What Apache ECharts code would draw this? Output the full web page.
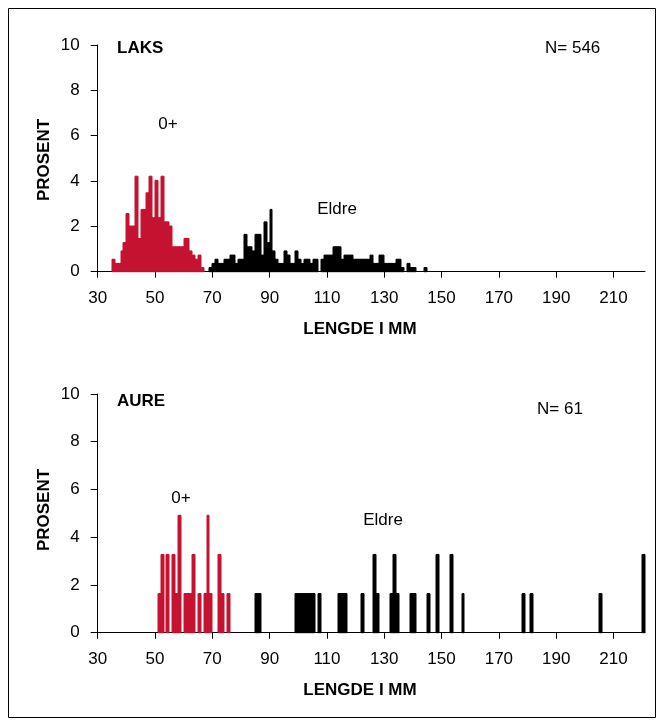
<!DOCTYPE html>
<html>
<head>
<meta charset="utf-8">
<script src="https://cdn.jsdelivr.net/npm/echarts@6/dist/echarts.min.js"></script>
<style>
html,body{margin:0;padding:0;background:#fff;}
#chart{width:657px;height:726px;}
</style>
</head>
<body>
<div id="chart"></div>
<script>
// ---- Data (length in mm, number of fish per 1 mm class) ----
const xTickLabels = [30, 50, 70, 90, 110, 130, 150, 170, 190, 210];
const yTickLabels = [0, 2, 4, 6, 8, 10];

const laksN = 546;
const laks0Lengths = [35,36,37,38,39,40,41,42,43,44,45,46,47,48,49,50,51,52,53,54,55,56,57,58,59,60,61,62,63,64,65,66];
const laks0Counts  = [3,2,2,5,7,14,11,11,23,8,15,15,19,23,13,22,13,23,12,12,11,6,6,6,6,8,8,5,4,3,4,1];
const laksEldreLengths = [69,70,71,72,73,74,75,76,77,78,79,80,81,82,83,84,85,86,87,88,89,90,91,92,93,94,95,96,97,98,99,100,101,102,103,104,105,106,108,109,110,111,112,113,114,115,116,117,118,119,120,121,122,123,124,125,126,127,128,129,130,131,132,133,134,135,136,138,139,140,144];
const laksEldreCounts  = [1,2,3,2,2,3,3,4,4,2,3,3,9,6,6,5,9,9,4,12,7,15,5,3,2,2,5,4,2,2,5,3,2,3,3,2,3,3,3,4,4,4,6,6,6,3,4,4,4,3,3,3,3,3,3,4,2,2,4,4,2,2,2,2,3,3,1,2,1,1,1];

const aureN = 61;
const aure0Lengths = [51,52,54,56,57,58,60,61,62,63,65,67,68,69,72,73,75];
const aure0Counts  = [1,2,2,2,1,3,1,1,1,2,1,1,3,1,2,1,1];
const aureEldreLengths = [85,86,99,100,101,102,103,104,105,107,114,115,116,122,126,127,132,133,134,139,140,145,148,153,157,178,181,205,220];
const aureEldreCounts  = [1,1,1,1,1,1,1,1,1,1,1,1,1,1,2,1,1,2,1,1,1,1,2,2,1,1,1,1,2];

const RED = '#C41230';
const FONT = 'Liberation Sans, Arial, sans-serif';

function toPct(lengths, counts, n) {
  return lengths.map((l, i) => [l, counts[i] / n * 100]);
}

function renderBars(params, api) {
  const x = api.value(0), y = api.value(1);
  const p0 = api.coord([x, 0]);
  const p1 = api.coord([x + 1, y]);
  const x0 = Math.round(p0[0]), x1 = Math.round(p1[0]);
  const style = api.style();
  return {
    type: 'rect',
    shape: { x: x0, y: p1[1], width: x1 - x0, height: p0[1] - p1[1] },
    style: { fill: style.fill, stroke: style.fill, lineWidth: 1 }
  };
}

function xAxis(gridIndex) {
  return {
    type: 'value', gridIndex, min: 30, max: 221,
    axisLine: { show: true, lineStyle: { color: '#000', width: 1 } },
    axisTick: { show: true, length: 6, inside: false, customValues: xTickLabels, lineStyle: { color: '#000' } },
    axisLabel: { customValues: xTickLabels, color: '#000', fontSize: 17, fontFamily: FONT, margin: 18 },
    splitLine: { show: false }
  };
}
function yAxis(gridIndex) {
  return {
    type: 'value', gridIndex, min: 0, max: 10,
    axisLine: { show: true, onZero: false, lineStyle: { color: '#000', width: 1 } },
    axisTick: { show: true, length: 7, customValues: yTickLabels, lineStyle: { color: '#000' } },
    axisLabel: { customValues: yTickLabels, color: '#000', fontSize: 17, fontFamily: FONT, margin: 18 },
    splitLine: { show: false }
  };
}

function txt(x, y, text, opts) {
  return {
    type: 'text', x, y, z: 10,
    style: Object.assign({ text, fill: '#000', font: '17px ' + FONT, textAlign: 'left', textVerticalAlign: 'middle' }, opts || {})
  };
}

const chart = echarts.init(document.getElementById('chart'), null, { renderer: 'canvas' });
chart.setOption({
  animation: false,
  backgroundColor: '#fff',
  grid: [
    { left: 97.7, top: 45, width: 547.3, height: 226.7 },
    { left: 97.7, top: 394, width: 547.3, height: 238.7 }
  ],
  xAxis: [xAxis(0), xAxis(1)],
  yAxis: [yAxis(0), yAxis(1)],
  series: [
    { type: 'custom', xAxisIndex: 0, yAxisIndex: 0, renderItem: renderBars, itemStyle: { color: RED },
      encode: { x: 0, y: 1 }, data: toPct(laks0Lengths, laks0Counts, laksN) },
    { type: 'custom', xAxisIndex: 0, yAxisIndex: 0, renderItem: renderBars, itemStyle: { color: '#000' },
      encode: { x: 0, y: 1 }, data: toPct(laksEldreLengths, laksEldreCounts, laksN) },
    { type: 'custom', xAxisIndex: 1, yAxisIndex: 1, renderItem: renderBars, itemStyle: { color: RED },
      encode: { x: 0, y: 1 }, data: toPct(aure0Lengths, aure0Counts, aureN) },
    { type: 'custom', xAxisIndex: 1, yAxisIndex: 1, renderItem: renderBars, itemStyle: { color: '#000' },
      encode: { x: 0, y: 1 }, data: toPct(aureEldreLengths, aureEldreCounts, aureN) }
  ],
  graphic: [
    { type: 'rect', shape: { x: 8.5, y: 8.5, width: 647, height: 709 }, style: { fill: 'none', stroke: '#000', lineWidth: 1 } },
    txt(117, 48, 'LAKS', { font: 'bold 17px ' + FONT }),
    txt(545, 48, 'N= 546'),
    txt(168, 124, '0+', { textAlign: 'center' }),
    txt(337, 209, 'Eldre', { textAlign: 'center' }),
    txt(360, 329, 'LENGDE I MM', { textAlign: 'center', font: 'bold 17px ' + FONT }),
    { type: 'text', x: 44, y: 160, rotation: Math.PI / 2,
      style: { text: 'PROSENT', fill: '#000', font: 'bold 17px ' + FONT, textAlign: 'center', textVerticalAlign: 'middle' } },
    txt(117, 401, 'AURE', { font: 'bold 17px ' + FONT }),
    txt(537, 409, 'N= 61'),
    txt(181, 498, '0+', { textAlign: 'center' }),
    txt(383, 520, 'Eldre', { textAlign: 'center' }),
    txt(360, 690, 'LENGDE I MM', { textAlign: 'center', font: 'bold 17px ' + FONT }),
    { type: 'text', x: 44, y: 510, rotation: Math.PI / 2,
      style: { text: 'PROSENT', fill: '#000', font: 'bold 17px ' + FONT, textAlign: 'center', textVerticalAlign: 'middle' } }
  ]
});
</script>
</body>
</html>
